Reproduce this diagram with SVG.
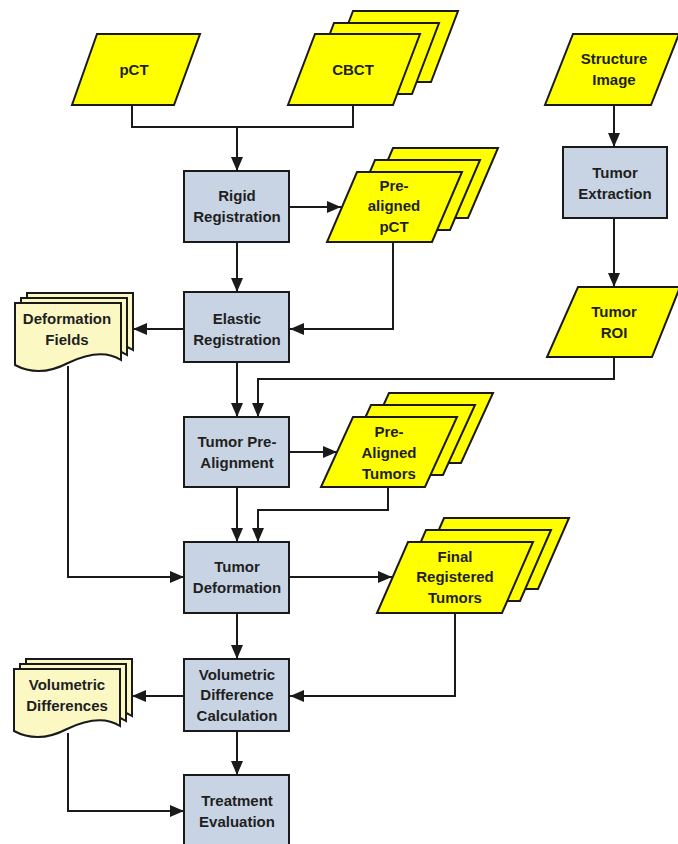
<svg xmlns="http://www.w3.org/2000/svg" width="678" height="844" viewBox="0 0 678 844">
<defs>
<style>
.io{fill:#ffff00;stroke:#1a1a1a;stroke-width:2;stroke-linejoin:miter}
.box{fill:#c8d4e3;stroke:#1a1a1a;stroke-width:2}
.doc{fill:#fbf8c4;stroke:#1a1a1a;stroke-width:2;stroke-linejoin:miter}
.t{font-family:"Liberation Sans",Arial,sans-serif;font-weight:bold;font-size:15px;fill:#1f1f1f;text-anchor:middle}
.c{fill:none;stroke:#1a1a1a;stroke-width:2}
</style>
<marker id="ah" markerWidth="14" markerHeight="14" viewBox="0 0 14 14" refX="14" refY="7" orient="auto" markerUnits="userSpaceOnUse">
<path d="M0,1 L14,7 L0,13 Z" fill="#1a1a1a"/>
</marker>
<path id="docshape" d="M0,0 H106 V57 C95,50 78,48 53,60 C32,71 15,70 0,62 Z"/>
</defs>
<rect width="678" height="844" fill="#ffffff"/>

<g id="connectors">
<path class="c" d="M132,105 V127 H353 V105"/>
<path class="c" d="M237,127 V171" marker-end="url(#ah)"/>
<path class="c" d="M289,207 H341" marker-end="url(#ah)"/>
<path class="c" d="M237,242 V292" marker-end="url(#ah)"/>
<path class="c" d="M393,242 V329 H290" marker-end="url(#ah)"/>
<path class="c" d="M184,329 H133" marker-end="url(#ah)"/>
<path class="c" d="M614,105 V147" marker-end="url(#ah)"/>
<path class="c" d="M614,218 V287" marker-end="url(#ah)"/>
<path class="c" d="M614,357 V379 H258 V417" marker-end="url(#ah)"/>
<path class="c" d="M237,362 V417" marker-end="url(#ah)"/>
<path class="c" d="M289,452 H337" marker-end="url(#ah)"/>
<path class="c" d="M388,487 V510 H258 V542" marker-end="url(#ah)"/>
<path class="c" d="M237,487 V542" marker-end="url(#ah)"/>
<path class="c" d="M68,366 V577 H184" marker-end="url(#ah)"/>
<path class="c" d="M289,577 H392" marker-end="url(#ah)"/>
<path class="c" d="M455,613 V696 H290" marker-end="url(#ah)"/>
<path class="c" d="M237,613 V659" marker-end="url(#ah)"/>
<path class="c" d="M184,696 H132" marker-end="url(#ah)"/>
<path class="c" d="M68,733 V811 H184" marker-end="url(#ah)"/>
<path class="c" d="M237,731 V775" marker-end="url(#ah)"/>
</g>

<g id="pct">
<polygon class="io" points="97,34 200,34 174,105 72,105"/>
<text class="t" x="134" y="75">pCT</text>
</g>

<g id="cbct">
<polygon class="io" points="353,11 458,11 431,82 326,82"/>
<polygon class="io" points="334,23 439,23 412,94 307,94"/>
<polygon class="io" points="315,34 420,34 393,105 288,105"/>
<text class="t" x="353" y="75">CBCT</text>
</g>

<g id="structure-image">
<polygon class="io" points="573,34 679,34 651,105 545,105"/>
<text class="t" x="614" y="64">Structure</text>
<text class="t" x="614" y="85">Image</text>
</g>

<g id="rigid-registration">
<rect class="box" x="184" y="171" width="105" height="71"/>
<text class="t" x="237" y="201">Rigid</text>
<text class="t" x="237" y="222">Registration</text>
</g>

<g id="pre-aligned-pct">
<polygon class="io" points="393,148 498,148 468,218 363,218"/>
<polygon class="io" points="375,160 480,160 450,230 345,230"/>
<polygon class="io" points="357,172 462,172 432,242 327,242"/>
<text class="t" x="394" y="191">Pre-</text>
<text class="t" x="394" y="211">aligned</text>
<text class="t" x="394" y="232">pCT</text>
</g>

<g id="tumor-extraction">
<rect class="box" x="563" y="147" width="104" height="71"/>
<text class="t" x="615" y="178">Tumor</text>
<text class="t" x="615" y="199">Extraction</text>
</g>

<g id="elastic-registration">
<rect class="box" x="184" y="292" width="105" height="70"/>
<text class="t" x="237" y="324">Elastic</text>
<text class="t" x="237" y="345">Registration</text>
</g>

<g id="deformation-fields">
<use href="#docshape" class="doc" transform="translate(27,293)"/>
<use href="#docshape" class="doc" transform="translate(21,298)"/>
<use href="#docshape" class="doc" transform="translate(15,303)"/>
<text class="t" x="67" y="324">Deformation</text>
<text class="t" x="67" y="345">Fields</text>
</g>

<g id="tumor-roi">
<polygon class="io" points="578,287 680,287 652,357 547,357"/>
<text class="t" x="614" y="317">Tumor</text>
<text class="t" x="614" y="338">ROI</text>
</g>

<g id="tumor-pre-alignment">
<rect class="box" x="184" y="417" width="105" height="70"/>
<text class="t" x="237" y="447">Tumor Pre-</text>
<text class="t" x="237" y="468">Alignment</text>
</g>

<g id="pre-aligned-tumors">
<polygon class="io" points="389,393 493,393 461,463 357,463"/>
<polygon class="io" points="371,405 475,405 443,475 339,475"/>
<polygon class="io" points="353,417 457,417 425,487 321,487"/>
<text class="t" x="389" y="437">Pre-</text>
<text class="t" x="389" y="458">Aligned</text>
<text class="t" x="389" y="479">Tumors</text>
</g>

<g id="tumor-deformation">
<rect class="box" x="184" y="542" width="105" height="71"/>
<text class="t" x="237" y="572">Tumor</text>
<text class="t" x="237" y="593">Deformation</text>
</g>

<g id="final-registered-tumors">
<polygon class="io" points="444,518 569,518 538,589 413,589"/>
<polygon class="io" points="426,530 551,530 520,601 395,601"/>
<polygon class="io" points="408,542 533,542 502,613 377,613"/>
<text class="t" x="455" y="562">Final</text>
<text class="t" x="455" y="582">Registered</text>
<text class="t" x="455" y="603">Tumors</text>
</g>

<g id="volumetric-difference-calculation">
<rect class="box" x="184" y="659" width="105" height="72"/>
<text class="t" x="237" y="680">Volumetric</text>
<text class="t" x="237" y="700">Difference</text>
<text class="t" x="237" y="721">Calculation</text>
</g>

<g id="volumetric-differences">
<use href="#docshape" class="doc" transform="translate(26,659)"/>
<use href="#docshape" class="doc" transform="translate(20,664)"/>
<use href="#docshape" class="doc" transform="translate(14,669)"/>
<text class="t" x="67" y="690">Volumetric</text>
<text class="t" x="67" y="711">Differences</text>
</g>

<g id="treatment-evaluation">
<rect class="box" x="184" y="775" width="105" height="75"/>
<text class="t" x="237" y="806">Treatment</text>
<text class="t" x="237" y="827">Evaluation</text>
</g>
</svg>
